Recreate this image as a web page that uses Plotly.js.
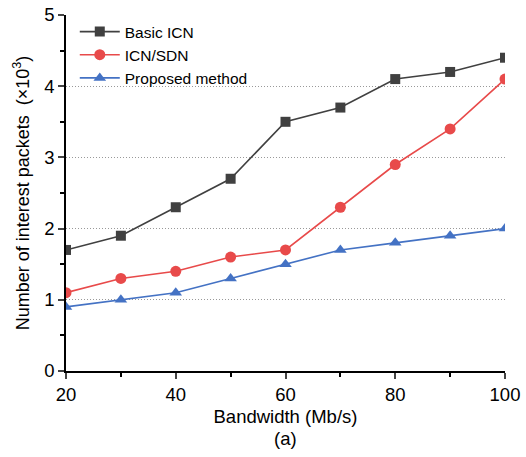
<!DOCTYPE html>
<html><head><meta charset="utf-8">
<script src="https://cdn.plot.ly/plotly-3.0.1.min.js"></script>
<style>body{margin:0;background:#fff}#c{width:526px;height:457px}</style>
</head><body><div id="c"></div>
<script>
const bandwidth = [20, 30, 40, 50, 60, 70, 80, 90, 100];
const basicICN = [1.7, 1.9, 2.3, 2.7, 3.5, 3.7, 4.1, 4.2, 4.4];
const icnSDN = [1.1, 1.3, 1.4, 1.6, 1.7, 2.3, 2.9, 3.4, 4.1];
const proposed = [0.9, 1.0, 1.1, 1.3, 1.5, 1.7, 1.8, 1.9, 2.0];
const names = ['Basic ICN', 'ICN/SDN', 'Proposed method'];

const F = 'Liberation Sans, Arial, sans-serif';
const traces = [
  {x: bandwidth, y: basicICN, name: names[0], mode: 'lines+markers',
   line: {color: '#404040', width: 1.6}, marker: {symbol: 'square', size: 10, color: '#404040'}},
  {x: bandwidth, y: icnSDN, name: names[1], mode: 'lines+markers',
   line: {color: '#e84a4a', width: 1.6}, marker: {symbol: 'circle', size: 11, color: '#e84a4a'}},
  {x: bandwidth, y: proposed, name: names[2], mode: 'lines+markers',
   line: {color: '#4472c4', width: 1.6}, marker: {symbol: 'triangle-up', size: 11, color: '#4472c4'}}
];
const layout = {
  width: 526, height: 457,
  margin: {l: 66, r: 21, t: 15, b: 86},
  paper_bgcolor: '#fff', plot_bgcolor: '#fff',
  font: {family: F, color: '#000'},
  showlegend: true,
  legend: {x: 0.02, y: 1.0, xanchor: 'left', yanchor: 'top', bgcolor: 'rgba(0,0,0,0)',
           font: {size: 15.5, family: F}, tracegroupgap: 0, itemwidth: 40},
  xaxis: {range: [20, 100], tickvals: [20, 40, 60, 80, 100], ticks: 'outside', ticklen: 6,
          tickwidth: 1.5, showline: true, linewidth: 1.5, linecolor: '#000', showgrid: false,
          zeroline: false, tickfont: {size: 18.5, family: F},
          minor: {tickvals: [30, 50, 70, 90], ticks: 'outside', ticklen: 4, tickwidth: 1.5, tickcolor: '#000', showgrid: false},
          title: {text: 'Bandwidth (Mb/s)', font: {size: 18.5, family: F}, standoff: 6}},
  yaxis: {range: [0, 5], tickvals: [0, 1, 2, 3, 4, 5], ticks: 'outside', ticklen: 6,
          tickwidth: 1.5, showline: true, linewidth: 1.5, linecolor: '#000',
          showgrid: true, gridcolor: '#999999', griddash: '1px,2px', gridwidth: 1,
          zeroline: false, tickfont: {size: 18.5, family: F},
          minor: {tickvals: [0.5, 1.5, 2.5, 3.5, 4.5], ticks: 'outside', ticklen: 4, tickwidth: 1.5, tickcolor: '#000', showgrid: false},
          title: {text: 'Number of interest packets  (×10<sup>3</sup>)', font: {size: 18, family: F}, standoff: 10}},
  annotations: [{text: '(a)', xref: 'paper', yref: 'paper', x: 0.5, y: -0.155, yanchor: 'top',
                 showarrow: false, font: {size: 18.5, family: F}}]
};
Plotly.newPlot('c', traces, layout, {displayModeBar: false});
</script></body></html>
